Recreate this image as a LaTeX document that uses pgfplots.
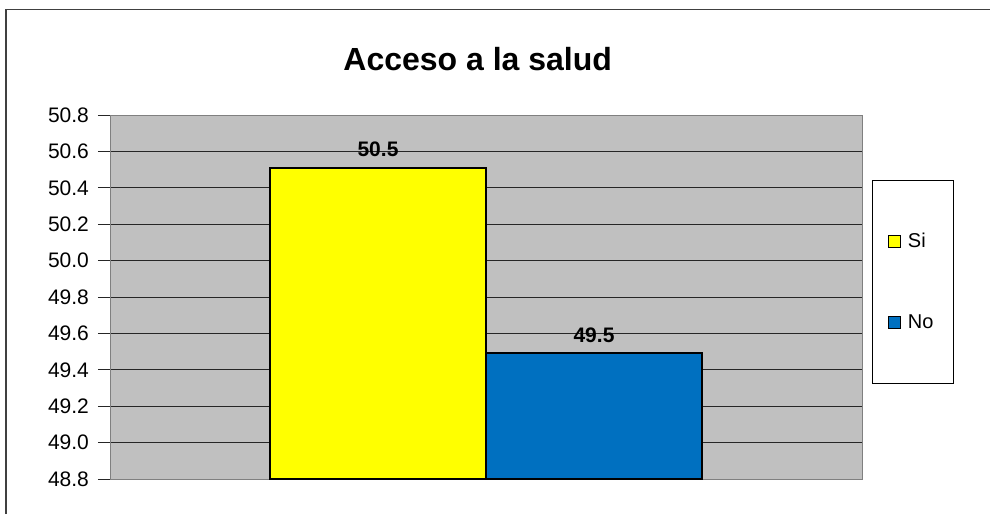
\documentclass[border=0pt]{standalone}
\usepackage{pgfplots}
\pgfplotsset{compat=1.18}
\usepackage{fontspec}
\setmainfont{Liberation Sans}
\definecolor{plotgray}{HTML}{C0C0C0}
\definecolor{siyellow}{HTML}{FFFF00}
\definecolor{noblue}{HTML}{0070C0}
\begin{document}
\begin{tikzpicture}
\useasboundingbox (-55pt,-17.5pt) rectangle (440pt,239.5pt);
\draw[black!75, line width=0.8pt] (-52pt,-17.5pt) -- (-52pt,234.75pt) -- (440pt,234.75pt);
\begin{axis}[
  scale only axis,
  width=376pt, height=182pt,
  ybar=0pt, bar width=108pt,
  xmin=-1, xmax=1,
  ymin=48.8, ymax=50.8,
  ytick={48.8,49.0,...,50.8},
  xtick=\empty,
  axis background/.style={fill=plotgray},
  axis line style={gray, line width=0.5pt},
  ymajorgrids,
  major grid style={black!85, line width=0.5pt},
  tick align=outside,
  ytick pos=left,
  major tick length=6pt,
  tick style={black!85, line width=0.5pt},
  yticklabel style={font=\fontsize{10.5}{12}\selectfont, xshift=-1pt},
  /pgf/number format/assume math mode=true,
  yticklabel={\pgfmathprintnumber[fixed,fixed zerofill,precision=1]{\tick}},
  title={\bfseries Acceso a la salud},
  title style={font=\fontsize{16}{19}\selectfont, at={(0.489,1.12)}, anchor=center},
  nodes near coords={\pgfmathprintnumber[fixed,precision=1]{\pgfplotspointmeta}},
  nodes near coords style={font=\bfseries\fontsize{10.5}{12}\selectfont, anchor=south, yshift=1.5pt},
  legend style={at={(1.0678,0.541)}, anchor=center, draw=black, line width=0.5pt,
    inner xsep=8pt, inner ysep=24pt, row sep=28pt,
    font=\fontsize{10}{12}\selectfont},
  legend cell align=left,
  legend image code/.code={\draw[#1, line width=0.5pt] (0pt,-3pt) rectangle (6pt,3pt); \path[draw=none, fill=none] (0pt,0pt) rectangle (7.5pt,0pt);},
]
\addplot[fill=siyellow, draw=black, line width=1pt] coordinates {(0,50.51)};
\addplot[fill=noblue, draw=black, line width=1pt] coordinates {(0,49.49)};
\legend{Si,No}
\end{axis}
\end{tikzpicture}
\end{document}
